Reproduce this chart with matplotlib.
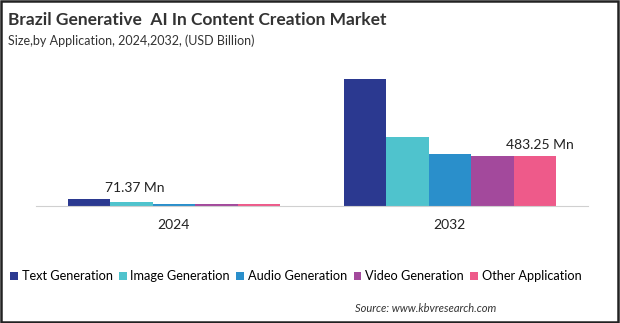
import numpy as np
import matplotlib
matplotlib.use('Agg')
import matplotlib.pyplot as plt
from matplotlib.patches import Rectangle

# Market size by application, USD Mn
years = ["2024", "2032"]
segments = ["Text Generation", "Image Generation", "Audio Generation",
            "Video Generation", "Other Application"]
text_gen = [71.37, 1227.0]
image_gen = [38.0, 667.0]
audio_gen = [22.0, 503.0]
video_gen = [22.0, 484.0]
other_app = [22.0, 483.25]
colors = ["#2B3990", "#4FC3CD", "#2A8FCB", "#A3499C", "#EE5A8A"]

series = [text_gen, image_gen, audio_gen, video_gen, other_app]

plt.rcParams['font.family'] = ['Lato', 'DejaVu Sans']

fig = plt.figure(figsize=(6.2, 3.23), dpi=100)
ax = fig.add_axes([0.058, 0.362, 0.890, 0.452])

x = np.arange(len(years))
w = 0.154
for i, (vals, c) in enumerate(zip(series, colors)):
    ax.bar(x + (i - 2) * w, vals, width=w, color=c, label=segments[i])

# value labels on first and last series
ax.text(x[0] - 2 * w + 0.06, text_gen[0] + 45, "%.2f Mn" % text_gen[0],
        ha='left', va='bottom', fontsize=10, color='#222222')
ax.text(x[1] + 2 * w + 0.02, other_app[1] + 45, "%.2f Mn" % other_app[1],
        ha='center', va='bottom', fontsize=10, color='#222222')

ax.set_xlim(-0.5, 1.5)
ax.set_ylim(0, 1411)
ax.set_xticks(x)
ax.set_xticklabels(years, fontsize=10, color='#222222')
ax.tick_params(axis='x', length=0, pad=9)
ax.set_yticks([])
for s in ['top', 'right', 'left']:
    ax.spines[s].set_visible(False)
ax.spines['bottom'].set_color('#D0D0D0')

fig.text(0.013, 0.938, "Brazil Generative  AI In Content Creation Market",
         fontsize=12.5, fontweight='bold', color='#333333', va='center')
fig.text(0.013, 0.873, "Size,by Application, 2024,2032, (USD Billion)",
         fontsize=9, color='#333333', va='center')

fig.legend(loc='center left', bbox_to_anchor=(0.008, 0.145), ncol=5,
           frameon=False, fontsize=9.2, handlelength=0.6, handleheight=0.6,
           handletextpad=0.3, columnspacing=0.5, borderaxespad=0)

fig.text(0.80, 0.045, "Source: www.kbvresearch.com", fontsize=8,
         style='italic', color='#333333', ha='right', va='center')

fig.patches.append(Rectangle((0.0015, 0.003), 0.995, 0.994, transform=fig.transFigure,
                             fill=False, edgecolor='#222222', linewidth=1.8))

fig.savefig("out.png", dpi=100)
